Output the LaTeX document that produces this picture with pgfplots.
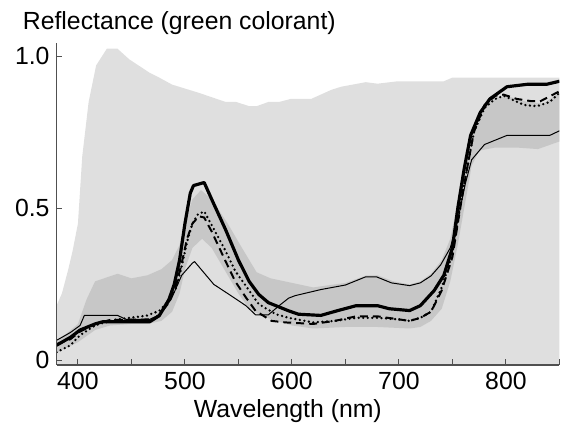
\documentclass[border=0pt]{standalone}
\usepackage{pgfplots}
\pgfplotsset{compat=1.18}
\usepackage{fontspec}
\setmainfont{Liberation Sans}
\definecolor{bandlight}{RGB}{223,223,223}
\definecolor{banddark}{RGB}{199,199,199}
\definecolor{axisgray}{RGB}{80,80,80}
\begin{document}
\begin{tikzpicture}[font=\fontsize{12.5}{15}\selectfont]
\begin{axis}[
  scale only axis, width=253.5pt, height=162.5pt,
  xmin=380, xmax=850, ymin=-0.015, ymax=1.045,
  axis x line=bottom, axis y line=left, axis on top,
  axis line style={-, line width=0.6pt, axisgray},
  xtick={400,450,...,850}, xticklabels={400,,500,,600,,700,,800,},
  ytick={0,0.5,1}, yticklabels={0,0.5,1.0},
  tick align=inside, major tick length=3pt,
  tick style={axisgray, line width=0.5pt},
  /pgf/number format/assume math mode=true,
  ticklabel style={font=\fontsize{12.5}{15}\selectfont},
  xlabel={Wavelength (nm)},
  xlabel style={at={(ticklabel cs:0.46)}, font=\fontsize{12.5}{15}\selectfont, yshift=2pt},
  line join=round,
]
% envelope of all samples
\addplot[fill=bandlight, draw=none] coordinates {
  (380,0.18)(385,0.22)(391,0.30)(395,0.36)(400,0.45)(404,0.67)(410,0.85)
  (417,0.97)(427,1.025)(437,1.025)(448,0.99)(467,0.946)(476,0.93)(488,0.907)
  (513,0.88)(538,0.85)(548,0.85)(560,0.836)(567,0.836)(578,0.85)(588,0.85)
  (599,0.86)(618,0.86)(637,0.89)(646,0.90)(669,0.915)(680,0.91)(699,0.918)
  (742,0.918)(750,0.93)(850,0.93)(850,-0.015)(380,-0.015)} --cycle;
% inner band
\addplot[fill=banddark, draw=none] coordinates {
  (380,0.06)(400,0.12)(408,0.20)(416,0.26)(437,0.285)(450,0.27)(465,0.28)
  (478,0.30)(488,0.33)(495,0.38)(500,0.45)(507,0.53)(515,0.56)(525,0.53)
  (540,0.45)(555,0.36)(567,0.29)(580,0.27)(600,0.255)(620,0.24)(650,0.255)
  (670,0.28)(680,0.28)(695,0.26)(710,0.25)(720,0.26)(730,0.285)(740,0.33)
  (748,0.40)(755,0.52)(762,0.66)(768,0.75)(775,0.82)(785,0.86)(800,0.87)
  (820,0.85)(835,0.845)(850,0.88)
  (850,0.72)(830,0.695)(810,0.70)(790,0.70)(775,0.69)(768,0.64)(762,0.52)
  (755,0.38)(748,0.26)(740,0.17)(730,0.13)(720,0.11)(710,0.105)(680,0.11)
  (650,0.11)(620,0.105)(600,0.115)(585,0.13)(570,0.15)(560,0.17)(550,0.22)
  (540,0.28)(525,0.37)(516,0.40)(507,0.37)(500,0.30)(495,0.22)(488,0.16)
  (478,0.13)(465,0.12)(450,0.12)(430,0.115)(416,0.10)(400,0.06)(380,0.025)} --cycle;
% thin solid
\addplot[black, line width=0.5pt] coordinates {
  (380,0.066)(393,0.092)(402,0.115)(406,0.148)(437,0.148)(445,0.135)(467,0.135)
  (476,0.15)(487,0.20)(497,0.28)(507,0.32)(509,0.325)(527,0.25)(543,0.213)
  (557,0.18)(566,0.15)(578,0.15)(588,0.18)(597,0.205)(603,0.213)(627,0.233)
  (650,0.248)(669,0.275)(679,0.275)(693,0.255)(710,0.246)(720,0.255)(730,0.278)
  (739,0.314)(748,0.37)(755,0.46)(762,0.58)(768,0.66)(780,0.71)(801,0.74)
  (841,0.74)(850,0.755)};
% dashed
\addplot[black, line width=1pt, dash pattern=on 4pt off 2.5pt] coordinates {
  (380,0.053)(393,0.07)(402,0.095)(416,0.12)(430,0.133)(470,0.135)(476,0.15)
  (485,0.19)(492,0.25)(497,0.32)(502,0.40)(507,0.45)(513,0.474)(518,0.47)
  (525,0.424)(538,0.326)(547,0.26)(557,0.207)(566,0.163)(581,0.13)(594,0.125)
  (620,0.12)(640,0.13)(660,0.145)(680,0.145)(700,0.135)(710,0.13)(720,0.14)
  (730,0.16)(740,0.23)(750,0.34)(760,0.56)(770,0.75)(780,0.84)(790,0.87)
  (798,0.874)(810,0.86)(823,0.853)(832,0.852)(850,0.885)};
% dotted
\addplot[black, line width=1.3pt, line cap=round, dash pattern=on 0pt off 2.3pt] coordinates {
  (380,0.027)(393,0.05)(402,0.083)(416,0.115)(430,0.13)(436,0.135)(448,0.14)
  (464,0.147)(476,0.163)(485,0.196)(492,0.24)(497,0.31)(502,0.39)(507,0.45)
  (512,0.48)(518,0.49)(525,0.445)(538,0.36)(547,0.294)(560,0.23)(569,0.185)
  (585,0.152)(597,0.14)(620,0.125)(640,0.13)(660,0.14)(680,0.14)(700,0.135)
  (710,0.13)(720,0.14)(730,0.16)(740,0.24)(750,0.35)(760,0.56)(770,0.75)
  (780,0.83)(790,0.86)(798,0.87)(817,0.84)(829,0.836)(841,0.85)(850,0.88)};
% thick solid
\addplot[black, line width=1.6pt] coordinates {
  (380,0.05)(393,0.076)(402,0.10)(416,0.12)(423,0.127)(467,0.127)(476,0.147)
  (485,0.20)(490,0.25)(495,0.33)(500,0.45)(505,0.55)(508,0.575)(518,0.585)
  (525,0.53)(538,0.43)(550,0.33)(560,0.26)(569,0.217)(578,0.19)(597,0.163)
  (606,0.152)(627,0.148)(643,0.164)(660,0.18)(680,0.18)(691,0.17)(710,0.164)
  (720,0.18)(733,0.23)(742,0.28)(750,0.37)(755,0.50)(761,0.63)(767,0.74)
  (776,0.815)(785,0.86)(801,0.90)(820,0.908)(838,0.908)(850,0.918)};
\end{axis}
\node[anchor=base west, font=\fontsize{12.5}{15}\selectfont]
  at ([xshift=-20.5pt,yshift=6.5pt]current axis.north west) {Reflectance (green colorant)};
\path ([xshift=-28.5pt,yshift=-30pt]current axis.south west)
  rectangle ([xshift=1pt,yshift=21.5pt]current axis.north east);
\end{tikzpicture}
\end{document}
